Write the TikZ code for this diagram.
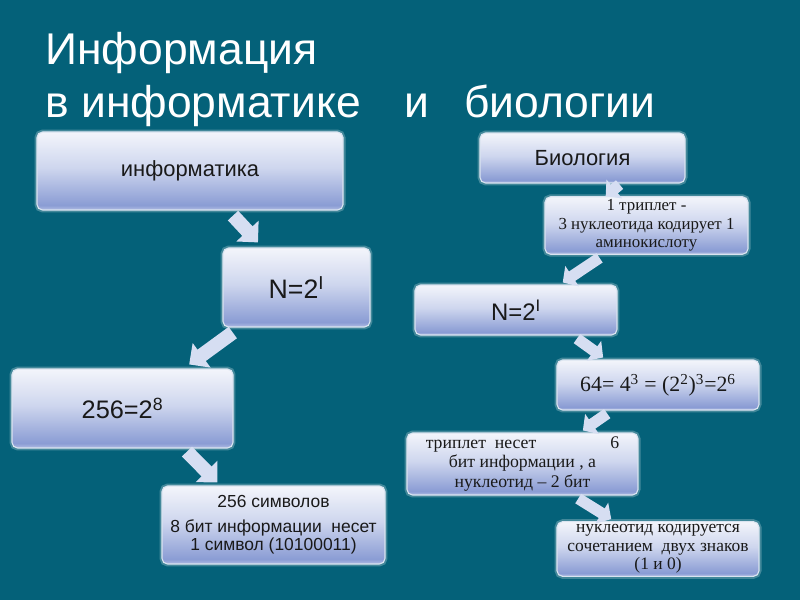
\documentclass[tikz,border=0pt]{standalone}
\usepackage{fontspec}
\setmainfont{Liberation Sans}
\newfontfamily\serifru{Liberation Serif}
\usetikzlibrary{arrows.meta,calc}
\definecolor{slidebg}{RGB}{4,97,121}
\definecolor{bxtop}{RGB}{243,245,251}
\definecolor{bxmid}{RGB}{206,214,238}
\definecolor{bxdeep}{RGB}{138,156,212}
\definecolor{bxlow}{RGB}{178,190,228}
\definecolor{boxedge}{RGB}{218,228,240}
\definecolor{arrowc}{RGB}{214,222,242}
\pgfdeclareverticalshading{boxshade}{100bp}{color(0bp)=(bxlow); color(25bp)=(bxlow); color(28bp)=(bxdeep); color(52bp)=(bxmid); color(75bp)=(bxtop); color(100bp)=(bxtop)}

\begin{document}
\begin{tikzpicture}[x=0.025cm,y=-0.025cm,
  box/.style={rectangle,rounded corners=4pt,shade,shading=boxshade,draw=boxedge,line width=0.8pt,
    preaction={draw=white,line width=3.5pt,opacity=0.25},text=black!90,inner sep=2pt,align=center},
  flowbig/.style={draw=arrowc,line width=10pt,-{Triangle[length=11pt,width=21pt]}},
  flowsmall/.style={draw=arrowc,line width=8pt,-{Triangle[length=8pt,width=17pt]}},
  sanstext/.style={font=\fontsize{#1}{#1}\selectfont},
  seriftext/.style={font=\serifru\fontsize{#1}{13.2}\selectfont}]
  \fill[slidebg] (0,0) rectangle (800,600);
  \node[anchor=base west,inner sep=0,text=white,sanstext=31.6] (t1) at (45,64) {Информация};
  \node[anchor=base west,inner sep=0,text=white,sanstext=31.6] (t2) at (45,117) {в информатике\hspace{1.1cm}и\hspace{0.87cm}биологии};
  \node[box,minimum width=7.65cm,minimum height=1.95cm,sanstext=15.6] (inf) at (190,171) {информатика};
  \node[box,minimum width=3.675cm,minimum height=1.975cm,sanstext=19] (nl) at (296.5,287.5) {N=2\textsuperscript{I}};
  \node[box,minimum width=5.525cm,minimum height=1.975cm,sanstext=18] (c256) at (122.5,408.5) {256=2\textsuperscript{8}};
  \node[box,minimum width=5.575cm,minimum height=1.95cm,font=\fontsize{12.4}{13.4}\selectfont] (sym) at (273.5,525) {256 символов\\[4pt]8 бит информации~ несет\\1 символ (10100011)};
  \node[box,minimum width=5.125cm,minimum height=1.25cm,sanstext=15.6] (bio) at (582.5,158) {Биология};
  \node[box,minimum width=5.075cm,minimum height=1.225cm,seriftext=12] (trip) at (646.5,225.5) {1 триплет -\\3 нуклеотида кодирует 1\\аминокислоту};
  \node[box,minimum width=5.05cm,minimum height=1.25cm,sanstext=17] (nr) at (516,310) {N=2\textsuperscript{I}};
  \node[box,minimum width=5.05cm,minimum height=1.25cm,font=\serifru\fontsize{15.5}{18}\selectfont] (sf) at (658,385) {64= 4\textsuperscript{3} = (2\textsuperscript{2})\textsuperscript{3}=2\textsuperscript{6}};
  \node[box,minimum width=5.775cm,minimum height=1.55cm,font=\serifru\fontsize{12.6}{13.6}\selectfont] (tn) at (522.5,464) {триплет~~несет\hspace{1.85cm}6\\бит информации , а\\нуклеотид – 2 бит};
  \node[box,minimum width=5.05cm,minimum height=1.3cm,seriftext=12.4] (nk) at (658,549) {нуклеотид кодируется\\сочетанием~ двух знаков\\(1 и 0)};
  \draw[flowbig] ($(inf.south west)!0.64!(inf.south east)+(0,5)$) -- ($(nl.north west)!0.24!(nl.north east)+(0,-5)$);
  \draw[flowbig] ($(nl.south west)!0.07!(nl.south east)+(0,5)$) -- ($(c256.north west)!0.8!(c256.north east)+(0,-4)$);
  \draw[flowbig] ($(c256.south west)!0.79!(c256.south east)+(0,3)$) -- ($(sym.north west)!0.25!(sym.north east)+(0,-3)$);
  \draw[flowsmall] ($(bio.south west)!0.68!(bio.south east)+(0,1)$) -- ($(trip.north west)!0.3!(trip.north east)+(0,0)$);
  \draw[flowsmall] ($(trip.south west)!0.27!(trip.south east)+(0,3)$) -- ($(nr.north west)!0.73!(nr.north east)+(0,-2)$);
  \draw[flowsmall] ($(nr.south west)!0.8!(nr.south east)+(0,3)$) -- ($(sf.north west)!0.23!(sf.north east)+(0,-2)$);
  \draw[flowsmall] ($(sf.south west)!0.25!(sf.south east)+(0,3)$) -- ($(tn.north west)!0.76!(tn.north east)+(0,-2)$);
  \draw[flowsmall] ($(tn.south west)!0.74!(tn.south east)+(0,3)$) -- ($(nk.north west)!0.27!(nk.north east)+(0,-2)$);
\end{tikzpicture}
\end{document}
